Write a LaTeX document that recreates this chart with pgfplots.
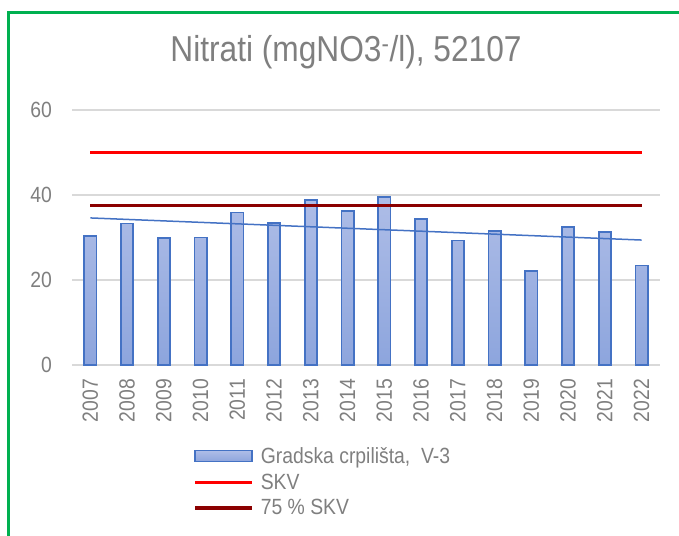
\documentclass[border=0pt]{standalone}
\usepackage{fontspec}
\setmainfont[FakeStretch=0.88]{Liberation Sans}
\usepackage{pgfplots}
\pgfplotsset{compat=1.18}
\definecolor{txt}{HTML}{7F7F7F}
\definecolor{grd}{HTML}{D9D9D9}
\definecolor{barline}{HTML}{4472C4}
\definecolor{bartop}{HTML}{AEBDE7}
\definecolor{barbot}{HTML}{8DA5DD}
\definecolor{skv}{HTML}{FF0000}
\definecolor{skvd}{HTML}{8B0000}
\definecolor{frame}{HTML}{00B050}
\pgfplotsset{
  barlegend/.style={legend image code/.code={\draw[##1] (0bp,-5.5bp) rectangle (57bp,5.5bp);}},
  linelegend/.style={legend image code/.code={\draw[##1] (0bp,0bp) -- (57bp,0bp);}},
}
\begin{document}
\begin{tikzpicture}[x=1bp,y=1bp]
\useasboundingbox (0,0) rectangle (679,536);
\draw[frame, line width=3bp] (8.5,0) -- (8.5,523.5) -- (679,523.5);
\node[txt, font=\fontsize{36bp}{40bp}\selectfont, anchor=base, inner sep=0pt] at (346,474) {Nitrati (mgNO3\textsuperscript{-}/l), 52107};
\begin{axis}[
  at={(72bp,171bp)}, anchor=south west,
  scale only axis, width=588bp, height=255bp,
  xmin=-0.5, xmax=15.5, ymin=0, ymax=60,
  ytick={0,20,40,60},
  xtick={0,...,15},
  xticklabels={2007,2008,2009,2010,2011,2012,2013,2014,2015,2016,2017,2018,2019,2020,2021,2022},
  axis line style={draw=none},
  major tick length=0pt,
  ymajorgrids, grid style={grd, line width=1.6bp},
  /pgf/number format/assume math mode=true,
  tick label style={txt, font=\fontsize{22bp}{26bp}\selectfont, inner sep=0pt},
  yticklabel style={anchor=east, xshift=-20bp},
  xticklabel style={anchor=east, yshift=-14bp, rotate=90},
  legend style={at={(0.206,-0.314)}, anchor=north west, draw=none, fill=none,
    font=\fontsize{22bp}{26bp}\selectfont, text=txt, inner sep=0pt, row sep=5bp,
    cells={anchor=west}, /tikz/every odd column/.append style={column sep=5bp}},
  clip=false,
]
\addplot[ybar, bar width=0.33, draw=barline, line width=1.8bp, top color=bartop, bottom color=barbot, barlegend]
  coordinates {(0,30.4) (1,33.3) (2,29.8) (3,30.0) (4,35.9) (5,33.4) (6,38.9) (7,36.2)
               (8,39.6) (9,34.3) (10,29.3) (11,31.6) (12,22.2) (13,32.5) (14,31.3) (15,23.4)};
\addlegendentry{Gradska crpilišta,\ \ V-3}
\addplot[barline, line width=1.5bp, forget plot] coordinates {(0,34.6) (15,29.4)};
\addplot[skv, line width=3bp, linelegend]
  coordinates {(0,50) (15,50)};
\addlegendentry{SKV}
\addplot[skvd, line width=3.5bp, linelegend]
  coordinates {(0,37.5) (15,37.5)};
\addlegendentry{75 \% SKV}
\end{axis}
\end{tikzpicture}
\end{document}
